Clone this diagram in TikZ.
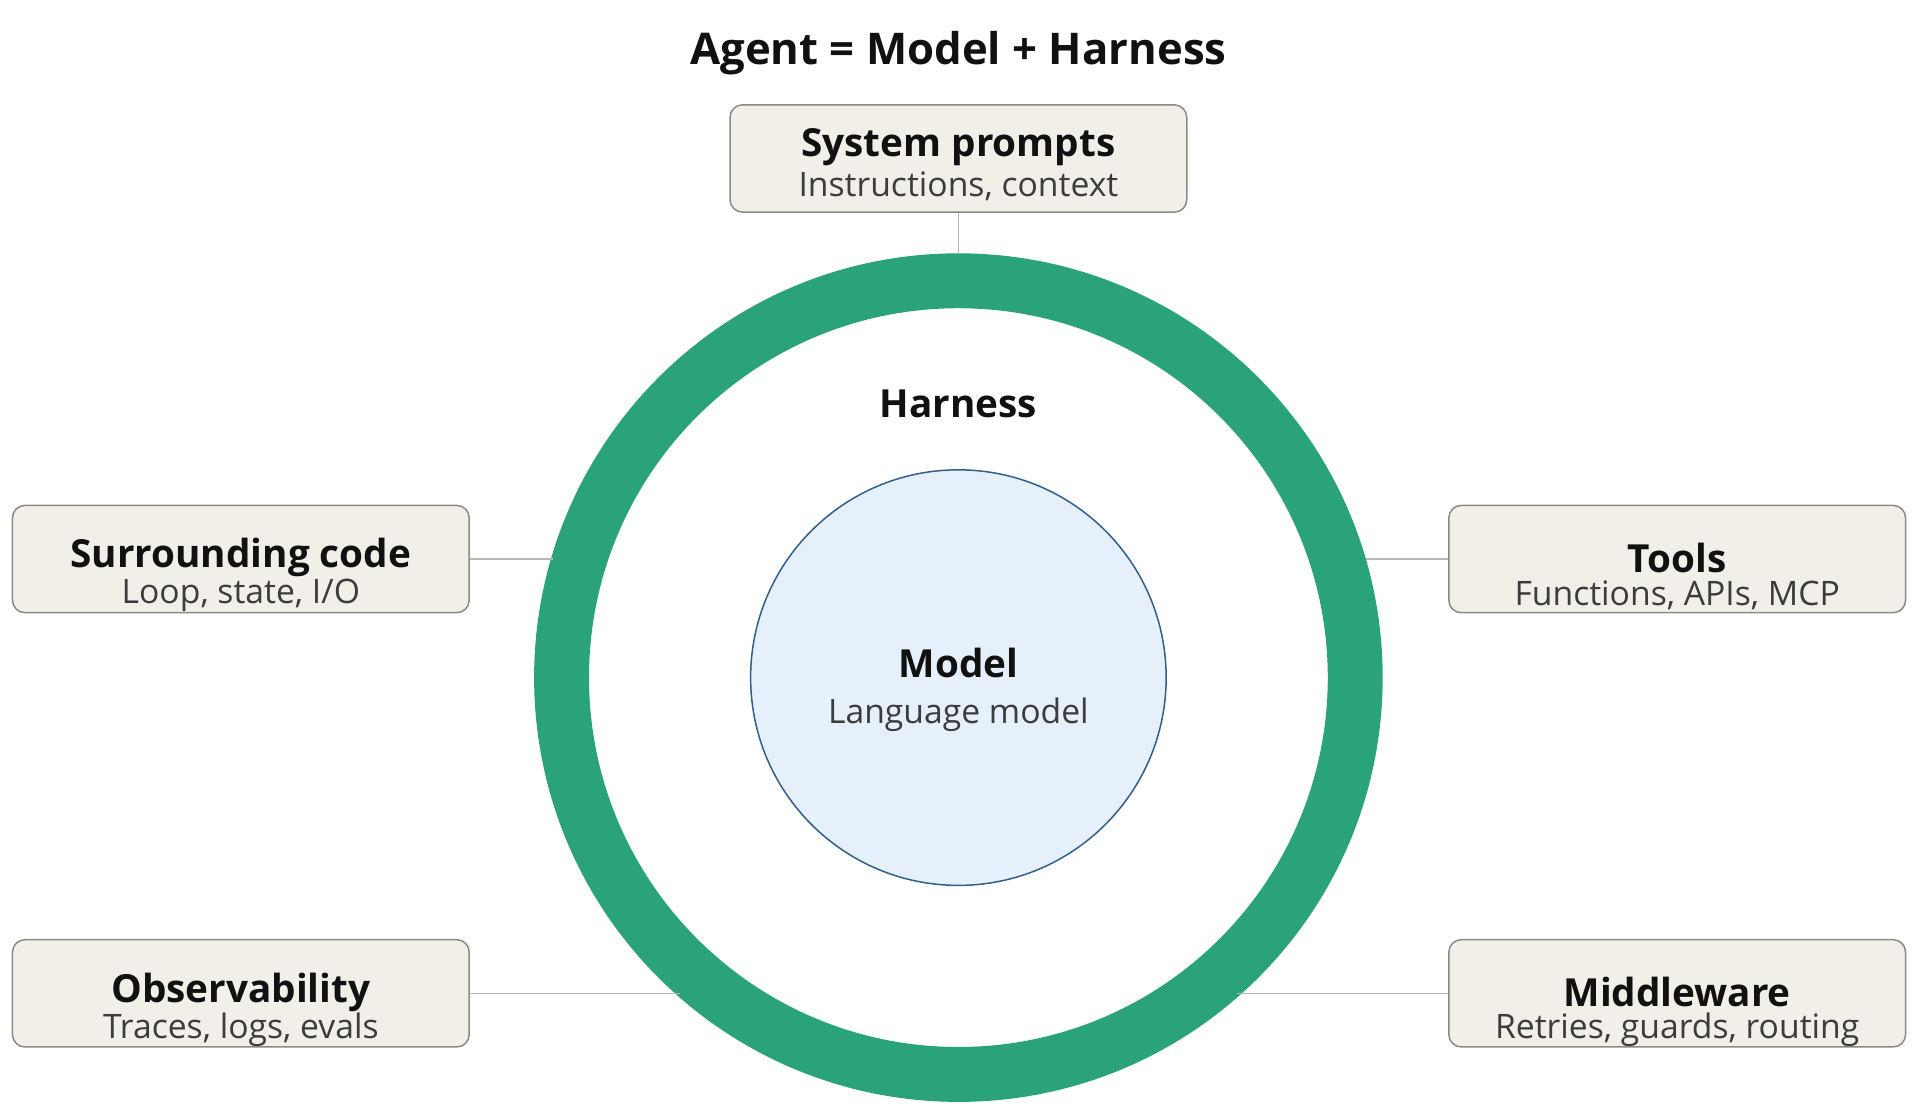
\documentclass[tikz,border=0pt]{standalone}
\usepackage{fontspec}
\setmainfont{Open Sans}
\definecolor{ringg}{HTML}{2AA37B}
\definecolor{boxf}{HTML}{F2EFE9}
\definecolor{boxd}{HTML}{8C8A86}
\definecolor{modf}{HTML}{E6F0FA}
\definecolor{modd}{HTML}{2F5F8A}
\definecolor{txt}{HTML}{111111}
\definecolor{sub}{HTML}{3C3C3C}
\begin{document}
\begin{tikzpicture}[x=0.5pt,y=-0.5pt,
  card/.style={draw=boxd,fill=boxf,rounded corners=5pt,line width=0.6pt,minimum width=183pt,minimum height=43pt},
  ttl/.style={text=txt,font=\fontsize{15.5}{16}\selectfont\bfseries},
  subt/.style={text=sub,font=\fontsize{13.5}{14}\selectfont},
  link/.style={draw=black!28,line width=0.6pt}]
\useasboundingbox (0,0) rectangle (1545,886);
\node[text=txt,font=\fontsize{17.5}{18}\selectfont\bfseries] (title) at (768,43) {Agent = Model + Harness};
% ring
\fill[ringg,even odd rule] (768,543) circle[radius=170pt] (768,543) circle[radius=148pt];
\coordinate (rt) at (768,203);
\coordinate (rl) at (443,448);
\coordinate (rr) at (1095,448);
\coordinate (rbl) at (545,796);
\coordinate (rbr) at (991,796);
\node[draw=modd,fill=modf,circle,line width=0.6pt,minimum size=166.5pt,inner sep=0] (model) at (768,543) {};
\node[ttl] (harn) at (768,324) {Harness};
\node[ttl] (mt) at (768,531) {Model};
\node[subt] (ms) at (768,573) {Language model};
% cards
\node[card] (sp) at (768,127) {};
\node[ttl] at (768,118) {System prompts};
\node[subt] at (768,149) {Instructions, context};
\node[card] (sc) at (193,448) {};
\node[ttl] at (193,447) {Surrounding code};
\node[subt] at (193,477) {Loop, state, I/O};
\node[card] (tl) at (1344,448) {};
\node[ttl] at (1344,447) {Tools};
\node[subt] at (1344,477) {Functions, APIs, MCP};
\node[card] (ob) at (193,796) {};
\node[ttl] at (193,795) {Observability};
\node[subt] at (193,825) {Traces, logs, evals};
\node[card] (mw) at (1344,796) {};
\node[ttl] at (1344,795) {Middleware};
\node[subt] at (1344,825) {Retries, guards, routing};
\draw[link] (sp.south) -- (rt);
\draw[link] (sc.east) -- (rl);
\draw[link] (tl.west) -- (rr);
\draw[link] (ob.east) -- (rbl);
\draw[link] (mw.west) -- (rbr);
\end{tikzpicture}
\end{document}
